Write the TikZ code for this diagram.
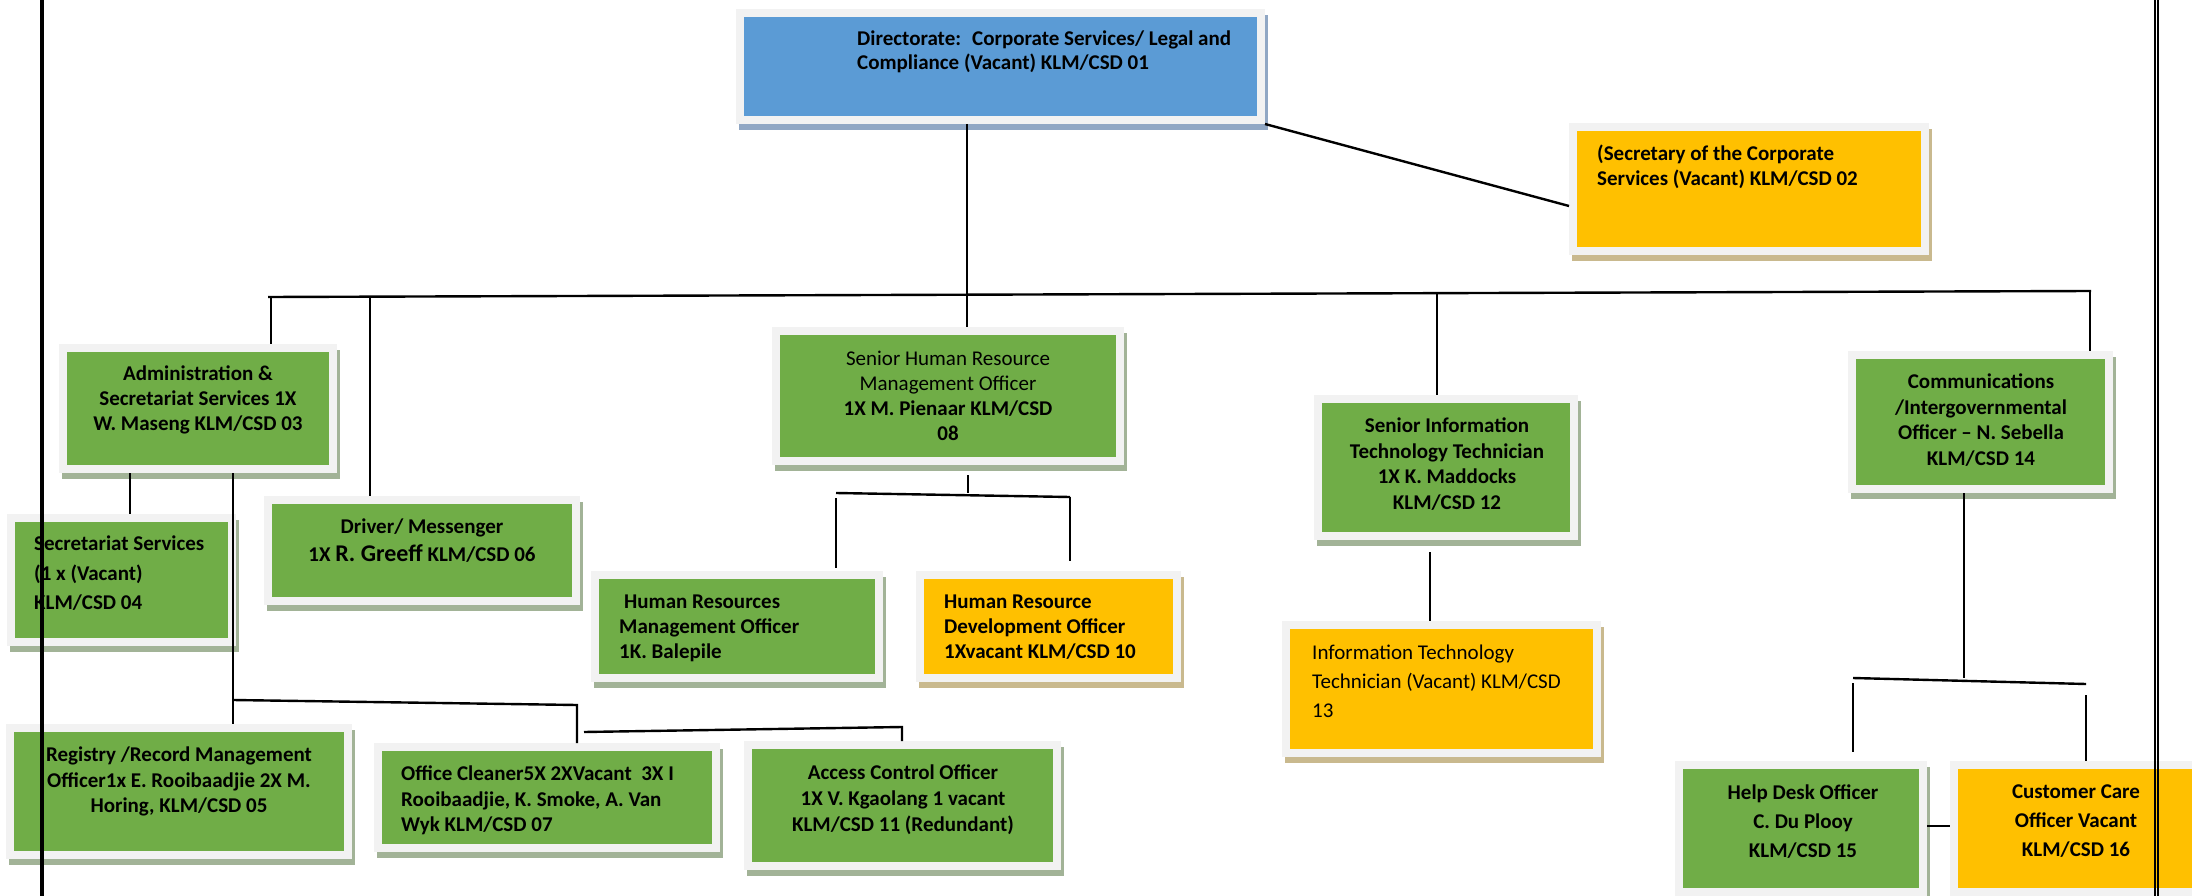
\documentclass[tikz,border=0pt]{standalone}
\usepackage{fontspec}
\setmainfont{Carlito}
\usetikzlibrary{calc}
\definecolor{gfill}{HTML}{70AD47}
\definecolor{yfill}{HTML}{FFC000}
\definecolor{bfill}{HTML}{5B9BD5}
\definecolor{gshad}{HTML}{A2B397}
\definecolor{yshad}{HTML}{C9B98E}
\definecolor{bshad}{HTML}{90A7C4}
\definecolor{frm}{HTML}{F2F2F2}
\tikzset{
  box/.style={rectangle, inner sep=0pt, outer sep=8pt, draw=none},
  txt/.style={inner sep=0pt, text=black, font=\fontsize{21}{25}\selectfont\bfseries},
  lt/.style={txt, anchor=north west, align=left},
  ct/.style={txt, anchor=north, align=center},
  conn/.style={draw=black, line width=2.4pt},
  bline/.style={draw=black, line width=2pt},
}
\newcommand\orgbox[6]{%
  \fill[#6shad] ({#2-5},{#3-2}) rectangle ({#4+11},{#5+14});
  \fill[frm] ({#2-8},{#3-8}) rectangle ({#4+8},{#5+8});
  \node[box, fill=#6fill, minimum width={#4-#2}, minimum height={#5-#3}] (#1) at ({(#2+#4)/2},{(#3+#5)/2}) {};
}
\begin{document}
\begin{tikzpicture}[x=1pt,y=-1pt]
\useasboundingbox[fill=white] (0,0) rectangle (2192,896);
% boxes
\orgbox{blue}{744}{17}{1257}{116}{b}
\orgbox{sec}{1577}{131}{1921}{247}{y}
\orgbox{admin}{67}{352}{329}{465}{g}
\orgbox{secserv}{15}{522}{228}{638}{g}
\orgbox{driver}{272}{504}{572}{597}{g}
\orgbox{senhr}{780}{335}{1116}{457}{g}
\orgbox{hrm}{599}{579}{875}{674}{g}
\orgbox{hrd}{924}{579}{1173}{674}{y}
\orgbox{senit}{1322}{403}{1570}{532}{g}
\orgbox{ittech}{1290}{629}{1593}{749}{y}
\orgbox{comm}{1856}{359}{2105}{485}{g}
\orgbox{help}{1683}{769}{1919}{888}{g}
\orgbox{cust}{1958}{769}{2215}{888}{y}
\orgbox{registry}{14}{732}{344}{851}{g}
\orgbox{cleaner}{382}{751}{712}{844}{g}
\orgbox{access}{752}{749}{1053}{862}{g}
% texts
\node[lt, font=\fontsize{21}{24}\selectfont\bfseries] (t-blue) at (857,31) {Directorate:~ Corporate Services/ Legal and\\Compliance (Vacant) KLM/CSD 01};
\node[lt] (t-sec) at (1597,145) {(Secretary of the Corporate\\Services (Vacant) KLM/CSD 02};
\node[ct] (t-admin) at (198,366) {Administration \&\\Secretariat Services 1X\\W. Maseng KLM/CSD 03};
\node[lt, font=\fontsize{21}{29.5}\selectfont\bfseries] (t-secserv) at (34,536) {Secretariat Services\\(1 x (Vacant)\\KLM/CSD 04};
\node[ct, font=\fontsize{21}{28}\selectfont\bfseries] (t-driver) at (422,519) {Driver/ Messenger\\1X {\fontsize{24}{28}\selectfont R. Greeff} KLM/CSD 06};
\node[ct] (t-senhr) at (948,351) {{\mdseries Senior Human Resource}\\{\mdseries Management Officer}\\1X M. Pienaar KLM/CSD\\08};
\node[lt] (t-hrm) at (619,595) {\hspace*{5pt}Human Resources\\Management Officer\\1K. Balepile};
\node[lt] (t-hrd) at (944,595) {Human Resource\\Development Officer\\1Xvacant KLM/CSD 10};
\node[ct, font=\fontsize{21}{25.5}\selectfont\bfseries] (t-senit) at (1447,418) {Senior Information\\Technology Technician\\1X K. Maddocks\\KLM/CSD 12};
\node[lt, font=\fontsize{21}{29}\selectfont] (t-ittech) at (1312,645) {Information Technology\\Technician (Vacant) KLM/CSD\\13};
\node[ct, font=\fontsize{21}{25.5}\selectfont\bfseries] (t-comm) at (1981,374) {Communications\\/Intergovernmental\\Officer – N. Sebella\\KLM/CSD 14};
\node[ct, font=\fontsize{21}{29}\selectfont\bfseries] (t-help) at (1803,785) {Help Desk Officer\\C. Du Plooy\\KLM/CSD 15};
\node[ct, font=\fontsize{21}{29}\selectfont\bfseries] (t-cust) at (2076,785) {Customer Care\\Officer Vacant\\KLM/CSD 16};
\node[ct, font=\fontsize{21}{25.5}\selectfont\bfseries] (t-registry) at (179,747) {Registry /Record Management\\Officer1x E. Rooibaadjie 2X M.\\Horing, KLM/CSD 05};
\node[lt, font=\fontsize{21}{25.5}\selectfont\bfseries] (t-cleaner) at (401,766) {Office Cleaner5X 2XVacant~ 3X I\\Rooibaadjie, K. Smoke, A. Van\\Wyk KLM/CSD 07};
\node[ct, font=\fontsize{21}{26}\selectfont\bfseries] (t-access) at (903,765) {Access Control Officer\\1X V. Kgaolang 1 vacant\\KLM/CSD 11 (Redundant)};
% connector coordinates
\coordinate (s1) at (1573,206);
\coordinate (trunk) at (967,0);
\coordinate (busL) at (268,297);
\coordinate (busR) at (2091,291);
\coordinate (ad1) at (271,297);
\coordinate (d1) at (370,296);
\coordinate (it1) at (1437,293);
\coordinate (cm1) at (2090,291);
\coordinate (a1) at (130,0);
\coordinate (a2) at (233,0);
\coordinate (r1) at (233,700);
\coordinate (r2) at (577,705);
\coordinate (r3) at (584,732);
\coordinate (r4) at (902,727);
\coordinate (hm) at (968,493);
\coordinate (hb1) at (836,493);
\coordinate (hb2) at (1070,497);
\coordinate (i1) at (1430,0);
\coordinate (c1) at (1964,678);
\coordinate (cb1) at (1853,678);
\coordinate (cb2) at (2086,684);
\coordinate (hc) at (0,826);
% connectors
\draw[conn] (blue.south east) -- (sec.west |- s1);
\draw[conn] (blue.south -| trunk) -- (senhr.north -| trunk);
\draw[conn] (busL) -- (busR);
\draw[conn] (ad1) -- (admin.north -| ad1);
\draw[conn] (d1) -- (driver.north -| d1);
\draw[conn] (it1) -- (senit.north -| it1);
\draw[conn] (cm1) -- (comm.north -| cm1);
\draw[conn] (admin.south -| a1) -- (secserv.north -| a1);
\draw[conn] (admin.south -| a2) -- (registry.north -| a2);
\draw[conn] (r1) -- (r2) -- (cleaner.north -| r2);
\draw[conn] (r3) -- (r4) -- (access.north -| r4);
\draw[conn, shorten <=10pt] (senhr.south -| hm) -- (hm);
\draw[conn] (hb1) -- (hb2);
\draw[conn, shorten <=5pt, shorten >=3pt] (hb1) -- (hrm.north -| hb1);
\draw[conn, shorten >=10pt] (hb2) -- (hrd.north -| hb2);
\draw[conn, shorten <=12pt] (senit.south -| i1) -- (ittech.north -| i1);
\draw[conn] (comm.south -| c1) -- (c1);
\draw[conn] (cb1) -- (cb2);
\draw[conn, shorten <=5pt, shorten >=9pt] (cb1) -- (help.north -| cb1);
\draw[conn, shorten <=11pt] (cb2) -- (cust.north -| cb2);
\draw[conn] (help.east |- hc) -- (cust.west |- hc);
% page border lines
\draw[bline, line width=1pt] (40.3,0) -- (40.3,896);
\draw[bline, line width=2.3pt] (42.6,0) -- (42.6,896);
\draw[bline] (2155,0) -- (2155,896);
\draw[bline] (2158.3,0) -- (2158.3,896);
\end{tikzpicture}
\end{document}
